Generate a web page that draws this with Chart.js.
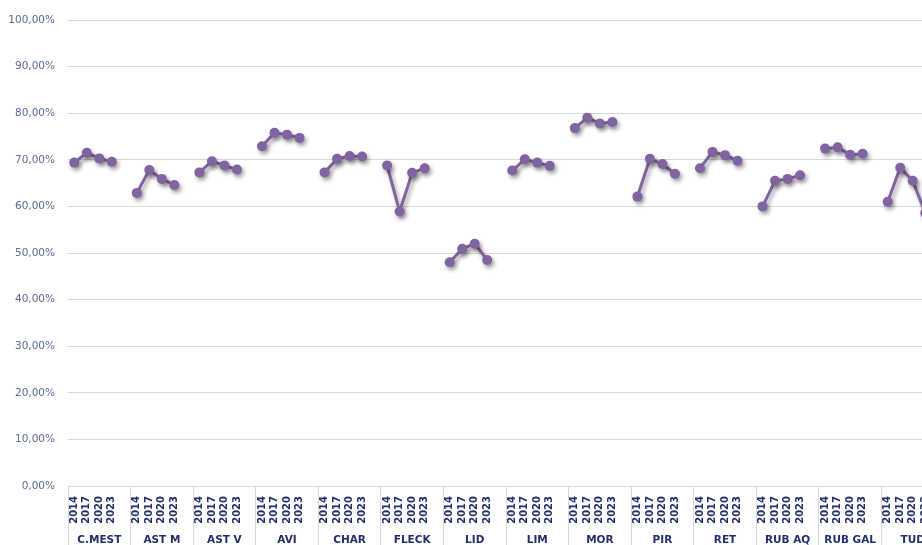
<!DOCTYPE html>
<html>
<head>
<meta charset="utf-8">
<script src="https://cdn.jsdelivr.net/npm/chart.js@4.4.1/dist/chart.umd.min.js"></script>
<style>
  body { margin: 0; overflow: hidden; background: #ffffff; }
</style>
</head>
<body>
<canvas id="grafico" width="949" height="545"></canvas>
<script>
// Municipios y años de la serie
var grupos = ["C.MEST", "AST M", "AST V", "AVI", "CHAR", "FLECK", "LID", "LIM", "MOR", "PIR", "RET", "RUB AQ", "RUB GAL", "TUD"];
var anios = ["2014", "2017", "2020", "2023"];

// Porcentaje por año, un valor por municipio
var v2014 = [69.4, 62.9, 67.3, 72.9, 67.3, 68.8, 48.0, 67.7, 76.8, 62.1, 68.2, 60.0, 72.4, 61.0];
var v2017 = [71.5, 67.8, 69.7, 75.8, 70.2, 58.9, 50.9, 70.1, 79.0, 70.2, 71.7, 65.5, 72.7, 68.3];
var v2020 = [70.3, 65.9, 68.8, 75.4, 70.8, 67.2, 52.0, 69.4, 77.8, 69.1, 71.0, 65.9, 71.1, 65.5];
var v2023 = [69.6, 64.6, 67.9, 74.7, 70.7, 68.2, 48.5, 68.7, 78.1, 67.0, 69.8, 66.7, 71.3, 58.6];

var ticksY = [0, 10, 20, 30, 40, 50, 60, 70, 80, 90, 100];

// Cada municipio ocupa 4 años + un hueco vacío que corta la línea
var etiquetas = [];
var puntos = [];
var series = [v2014, v2017, v2020, v2023];
for (var g = 0; g < grupos.length; g++) {
    for (var a = 0; a < anios.length; a++) {
        etiquetas.push(anios[a]);
        puntos.push(series[a][g]);
    }
    etiquetas.push("");
    puntos.push(null);
}

var morado = "#8064a2";
var azul = "#222f6b";
var gris = "#d9d9d9";

// Sombra suave bajo líneas y puntos
var sombra = {
    id: "sombra",
    beforeDatasetsDraw: function (chart) {
        var c = chart.ctx;
        c.save();
        c.shadowColor = "rgba(0,0,0,0.38)";
        c.shadowBlur = 4;
        c.shadowOffsetX = 2;
        c.shadowOffsetY = 3;
    },
    afterDatasetsDraw: function (chart) {
        chart.ctx.restore();
    }
};

var ctx = document.getElementById("grafico").getContext("2d");
var myChart = new Chart(ctx, {
    type: "line",
    data: {
        labels: etiquetas,
        datasets: [
            {
                label: "Porcentaje",
                data: puntos,
                borderColor: morado,
                backgroundColor: morado,
                borderWidth: 3,
                pointRadius: 5,
                pointBorderWidth: 0,
                pointBackgroundColor: morado,
                spanGaps: false,
                tension: 0
            }
        ]
    },
    plugins: [sombra],
    options: {
        responsive: false,
        animation: false,
        devicePixelRatio: 1,
        layout: { padding: { top: 20, right: 0, bottom: 0, left: 0 } },
        plugins: {
            legend: { display: false },
            tooltip: { enabled: false }
        },
        scales: {
            y: {
                min: 0,
                max: 100,
                afterFit: function (s) { s.width = 68; },
                afterBuildTicks: function (s) {
                    s.ticks = ticksY.map(function (v) { return { value: v }; });
                },
                border: { display: false },
                grid: { color: gris, drawTicks: false, lineWidth: 1 },
                ticks: {
                    padding: 13,
                    color: "#5d6a97",
                    font: { family: "DejaVu Sans", size: 10.5 },
                    callback: function (value) {
                        return value.toFixed(2).replace(".", ",") + "%";
                    }
                }
            },
            x: {
                type: "category",
                position: "bottom",
                weight: 0,
                offset: true,
                afterFit: function (s) { s.height = 42; },
                border: { display: true, color: gris },
                grid: {
                    offset: true,
                    drawOnChartArea: false,
                    drawTicks: true,
                    tickLength: 42,
                    color: function (c) { return c.index % 5 === 0 ? gris : "rgba(0,0,0,0)"; }
                },
                ticks: {
                    autoSkip: false,
                    maxRotation: 90,
                    minRotation: 90,
                    padding: -32,
                    color: azul,
                    font: { family: "DejaVu Sans", size: 10, weight: "bold" }
                }
            },
            x2: {
                type: "category",
                position: "bottom",
                weight: 1,
                labels: grupos,
                offset: true,
                afterFit: function (s) { s.height = 17; },
                border: { display: false },
                grid: {
                    offset: true,
                    drawOnChartArea: false,
                    drawTicks: true,
                    tickLength: 17,
                    color: gris
                },
                ticks: {
                    autoSkip: false,
                    maxRotation: 0,
                    padding: -11,
                    color: azul,
                    font: { family: "DejaVu Sans", size: 10.5, weight: "bold" }
                }
            }
        }
    }
});
</script>
</body>
</html>
